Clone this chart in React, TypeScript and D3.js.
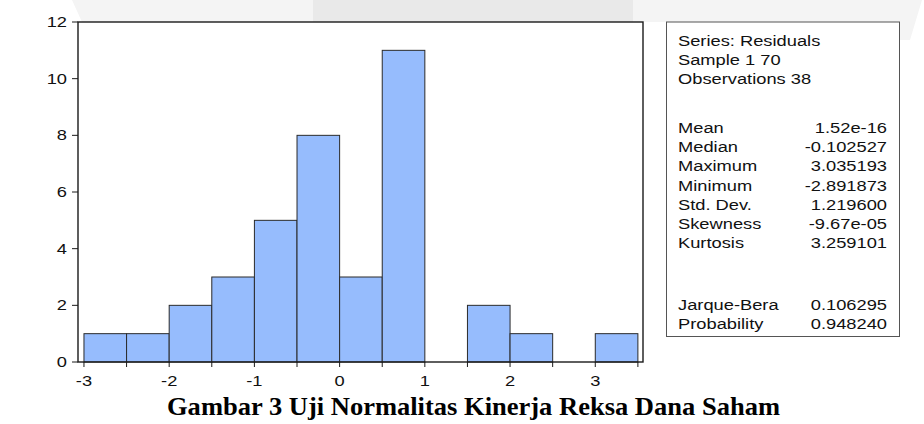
import React from "react";
import * as d3 from "d3";

const binStarts = [-3, -2.5, -2, -1.5, -1, -0.5, 0, 0.5, 1, 1.5, 2, 2.5, 3];
const counts = [1, 1, 2, 3, 5, 8, 3, 11, 0, 2, 1, 0, 1];
const binWidth = 0.5;
const yTicks = [0, 2, 4, 6, 8, 10, 12];
const xTickLabels = [-3, -2, -1, 0, 1, 2, 3];
const xMinorTicks = [-3, -2.5, -2, -1.5, -1, -0.5, 0, 0.5, 1, 1.5, 2, 2.5, 3, 3.5];

const headerLines = ["Series: Residuals", "Sample 1 70", "Observations 38"];
const statLabels = ["Mean", "Median", "Maximum", "Minimum", "Std. Dev.", "Skewness", "Kurtosis"];
const statValues = ["1.52e-16", "-0.102527", "3.035193", "-2.891873", "1.219600", "-9.67e-05", "3.259101"];
const testLabels = ["Jarque-Bera", "Probability"];
const testValues = ["0.106295", "0.948240"];

const caption = "Gambar 3 Uji Normalitas Kinerja Reksa Dana Saham";

const W = 924;
const H = 424;
const plot = { left: 78, right: 643, top: 22, bottom: 362 };
const FONT = "'Liberation Sans', Arial, Helvetica, sans-serif";
const FS = 15;
const SX = 1.22;

function T({ x, y, anchor = "start", children, size = FS }: any) {
  return (
    <text
      transform={`translate(${x},${y}) scale(${SX},1)`}
      textAnchor={anchor}
      fontFamily={FONT}
      fontSize={size}
      fill="#111"
    >
      {children}
    </text>
  );
}

export default function App() {
  const x = d3.scaleLinear().domain([-3.07, 3.56]).range([plot.left, plot.right]);
  const y = d3.scaleLinear().domain([0, 12]).range([plot.bottom, plot.top]);

  const box = { left: 666.5, right: 899.5, top: 22, bottom: 336.5 };
  const lineH = 19.2;
  const textLeft = 678;
  const textRight = 887;
  const headerY0 = 46;
  const statY0 = 133;
  const testY0 = 309.5;

  return (
    <svg
      width={W}
      height={H}
      viewBox={`0 0 ${W} ${H}`}
      style={{ position: "absolute", left: 0, top: 0, background: "#fff" }}
    >
      {/* faint background watermark */}
      <polygon points="72,0 922,0 910,40 899,40 899,22 82,22" fill="#f4f4f4" />
      <rect x={313} y={0} width={320} height={22} fill="#e9e9e9" />

      {/* plot background */}
      <rect x={plot.left} y={plot.top} width={plot.right - plot.left} height={plot.bottom - plot.top} fill="#fff" />

      {/* bars */}
      {counts.map((c, i) =>
        c > 0 ? (
          <rect
            key={i}
            x={x(binStarts[i])}
            y={y(c)}
            width={x(binStarts[i] + binWidth) - x(binStarts[i])}
            height={y(0) - y(c)}
            fill="#96bcfd"
            stroke="#2a2a2a"
            strokeWidth={1}
          />
        ) : null
      )}

      {/* frame */}
      <rect
        x={plot.left}
        y={plot.top}
        width={plot.right - plot.left}
        height={plot.bottom - plot.top}
        fill="none"
        stroke="#1a1a1a"
        strokeWidth={1.4}
      />

      {/* y ticks */}
      {yTicks.map((t) => (
        <g key={t}>
          <line x1={plot.left - 6} x2={plot.left} y1={y(t)} y2={y(t)} stroke="#1a1a1a" strokeWidth={1} />
          <T x={plot.left - 11} y={y(t) + 5} anchor="end">
            {t}
          </T>
        </g>
      ))}

      {/* x ticks */}
      {xMinorTicks.map((t) => (
        <line key={t} x1={x(t)} x2={x(t)} y1={plot.bottom} y2={plot.bottom + 5} stroke="#1a1a1a" strokeWidth={1} />
      ))}
      {xTickLabels.map((t) => (
        <T key={t} x={x(t)} y={386} anchor="middle">
          {t}
        </T>
      ))}

      {/* stats box */}
      <rect
        x={box.left}
        y={box.top}
        width={box.right - box.left}
        height={box.bottom - box.top}
        fill="#fff"
        stroke="#555"
        strokeWidth={1}
      />
      {headerLines.map((s, i) => (
        <T key={s} x={textLeft} y={headerY0 + i * lineH}>
          {s}
        </T>
      ))}
      {statLabels.map((s, i) => (
        <g key={s}>
          <T x={textLeft} y={statY0 + i * lineH}>
            {s}
          </T>
          <T x={textRight} y={statY0 + i * lineH} anchor="end">
            {statValues[i]}
          </T>
        </g>
      ))}
      {testLabels.map((s, i) => (
        <g key={s}>
          <T x={textLeft} y={testY0 + i * lineH}>
            {s}
          </T>
          <T x={textRight} y={testY0 + i * lineH} anchor="end">
            {testValues[i]}
          </T>
        </g>
      ))}

      {/* caption */}
      <text
        x={473.5}
        y={415}
        textAnchor="middle"
        fontFamily="'Liberation Serif', 'Times New Roman', serif"
        fontWeight="bold"
        fontSize={25}
        textLength={613}
        lengthAdjust="spacingAndGlyphs"
        fill="#000"
      >
        {caption}
      </text>
    </svg>
  );
}
